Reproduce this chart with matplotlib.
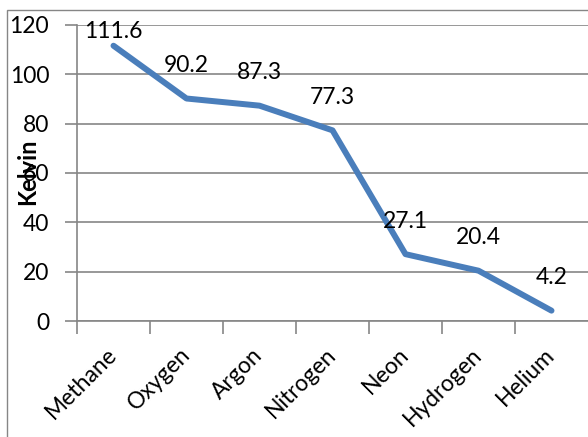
import matplotlib
matplotlib.use("Agg")
import matplotlib.pyplot as plt
from matplotlib.patches import Rectangle

# boiling points, Kelvin
gases = ["Methane", "Oxygen", "Argon", "Nitrogen", "Neon", "Hydrogen", "Helium"]
kelvin = [111.6, 90.2, 87.3, 77.3, 27.1, 20.4, 4.2]
yticks = [0, 20, 40, 60, 80, 100, 120]

plt.rcParams['font.family'] = ['Lato', 'DejaVu Sans']
grey = '#868686'
blue = '#4A7EBB'

fig = plt.figure(figsize=(5.88, 4.37), dpi=100)
# outer chart border (cut off at right/bottom like the original)
fig.patches.append(Rectangle((7 / 588, -0.05), 1.1, 1 - 10 / 437 + 0.05,
                             transform=fig.transFigure, fill=False,
                             edgecolor=grey, linewidth=1))

ax = fig.add_axes([77 / 588, 1 - 321 / 437, 511 / 588, 296 / 437])
x = list(range(len(gases)))
ax.plot(x, kelvin, color=blue, linewidth=4.3, solid_capstyle='round',
        solid_joinstyle='round', zorder=3)

ax.set_xlim(-0.5, len(gases) - 0.5)
ax.set_ylim(0, 120)
ax.set_yticks(yticks)
ax.set_xticks([i - 0.5 for i in range(len(gases))], minor=False)
ax.set_xticklabels([])
ax.set_xticks(x, minor=True)
ax.set_xticklabels(gases, minor=True, rotation=45, ha='right', va='center',
                   rotation_mode='anchor', fontsize=16.5)
ax.tick_params(axis='x', which='minor', length=0, pad=22)
ax.tick_params(axis='x', which='major', length=9, width=1.2, color=grey)
ax.tick_params(axis='y', length=9, width=1.2, color=grey, pad=11, labelsize=16.5)

ax.yaxis.grid(True, color=grey, linewidth=1.2)
ax.set_axisbelow(True)
for s in ['top', 'right']:
    ax.spines[s].set_visible(False)
for s in ['left', 'bottom']:
    ax.spines[s].set_color(grey)
    ax.spines[s].set_linewidth(1.2)

# data labels above points, kept inside the plot area
for xi, v in zip(x, kelvin):
    ly = min(v + 13.4, 117.2)
    ax.text(xi, ly, f"{v}", ha='center', va='center', fontsize=16.5, clip_on=False)

fig.text(28 / 588, 1 - 172 / 437, "Kelvin", rotation=90, fontweight='bold',
         fontsize=17, ha='center', va='center')

fig.savefig("out.png", dpi=100)
